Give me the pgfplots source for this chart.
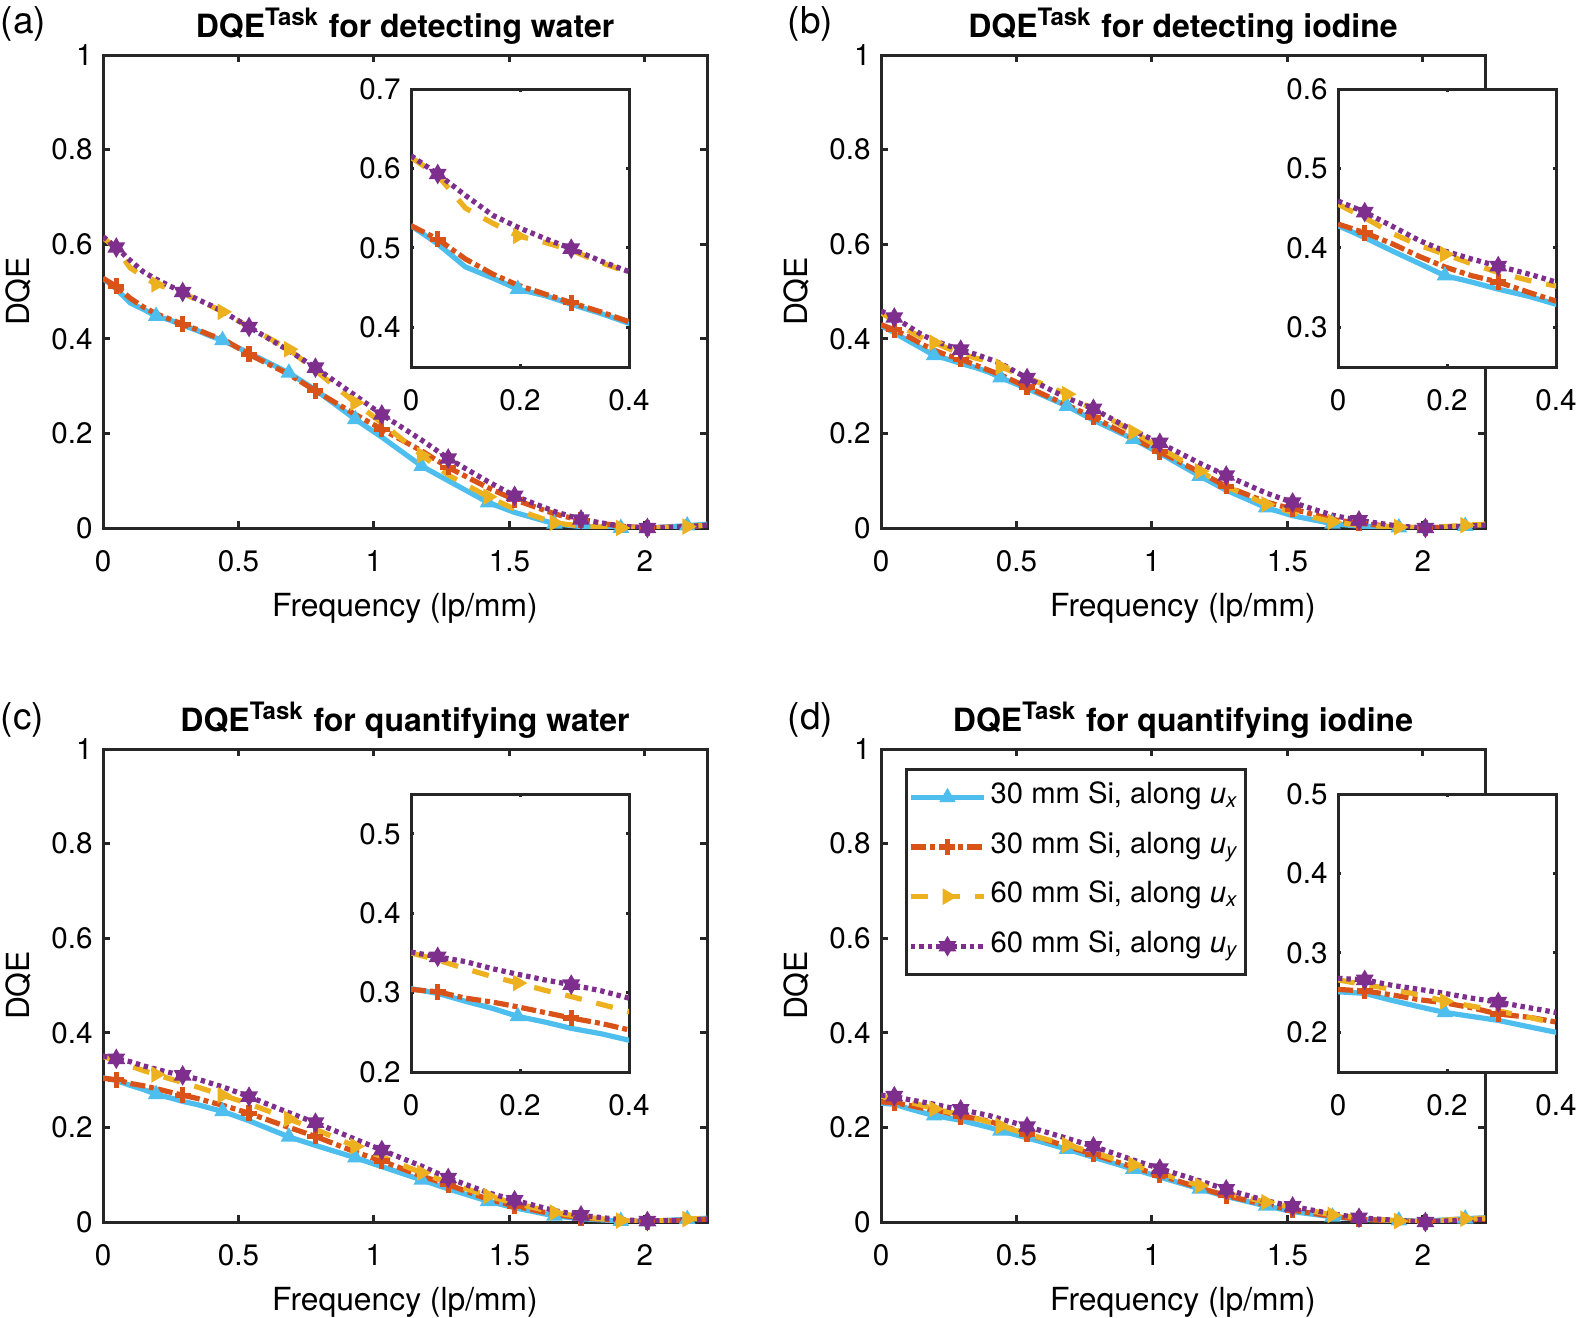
\documentclass[border=0pt]{standalone}
\usepackage{fontspec}
\setmainfont{TeX Gyre Heros}
\usepackage{pgfplots}
\usepackage{pgfplotstable}
\pgfplotsset{compat=1.18}

\definecolor{c1}{rgb}{0.301,0.745,0.933}
\definecolor{c2}{rgb}{0.850,0.325,0.098}
\definecolor{c3}{rgb}{0.929,0.694,0.125}
\definecolor{c4}{rgb}{0.494,0.184,0.556}

% filled six-point star (MATLAB hexagram)
\pgfdeclareplotmark{hexa}{%
  \pgfpathmoveto{\pgfpointpolar{90}{\pgfplotmarksize}}%
  \pgfpathlineto{\pgfpointpolar{120}{0.577\pgfplotmarksize}}%
  \pgfpathlineto{\pgfpointpolar{150}{\pgfplotmarksize}}%
  \pgfpathlineto{\pgfpointpolar{180}{0.577\pgfplotmarksize}}%
  \pgfpathlineto{\pgfpointpolar{210}{\pgfplotmarksize}}%
  \pgfpathlineto{\pgfpointpolar{240}{0.577\pgfplotmarksize}}%
  \pgfpathlineto{\pgfpointpolar{270}{\pgfplotmarksize}}%
  \pgfpathlineto{\pgfpointpolar{300}{0.577\pgfplotmarksize}}%
  \pgfpathlineto{\pgfpointpolar{330}{\pgfplotmarksize}}%
  \pgfpathlineto{\pgfpointpolar{0}{0.577\pgfplotmarksize}}%
  \pgfpathlineto{\pgfpointpolar{30}{\pgfplotmarksize}}%
  \pgfpathlineto{\pgfpointpolar{60}{0.577\pgfplotmarksize}}%
  \pgfpathclose\pgfusepathqfillstroke}

% columns: a = 30 mm Si u_x, b = 30 mm Si u_y, c = 60 mm Si u_x, d = 60 mm Si u_y
\pgfplotstableread{
f      a     b     c     d
0      0.528 0.528 0.614 0.616
0.049  0.505 0.511 0.591 0.593
0.1    0.476 0.486 0.550 0.566
0.15   0.462 0.467 0.531 0.541
0.196  0.448 0.453 0.515 0.526
0.245  0.440 0.442 0.507 0.512
0.294  0.429 0.431 0.497 0.499
0.35   0.417 0.419 0.481 0.483
0.4    0.405 0.407 0.469 0.470
0.441  0.397 0.400 0.457 0.458
0.539  0.370 0.367 0.425 0.425
0.686  0.328 0.325 0.378 0.375
0.784  0.292 0.290 0.333 0.339
0.931  0.230 0.240 0.265 0.280
1.029  0.192 0.209 0.222 0.240
1.176  0.131 0.163 0.154 0.186
1.274  0.100 0.128 0.112 0.147
1.421  0.054 0.085 0.066 0.098
1.519  0.033 0.060 0.040 0.068
1.666  0.009 0.030 0.011 0.035
1.764  0.003 0.016 0.004 0.018
1.911  0.000 0.004 0.000 0.004
2.009  0.000 0.000 0.000 0.000
2.156  0.005 0.003 0.003 0.003
2.23   0.008 0.006 0.006 0.006
}\tabA

\pgfplotstableread{
f      a     b     c     d
0      0.428 0.430 0.455 0.459
0.049  0.413 0.419 0.438 0.445
0.1    0.396 0.405 0.418 0.427
0.15   0.380 0.389 0.403 0.409
0.196  0.365 0.376 0.392 0.396
0.245  0.357 0.365 0.380 0.386
0.294  0.348 0.357 0.369 0.377
0.35   0.339 0.344 0.359 0.367
0.4    0.329 0.333 0.352 0.357
0.441  0.318 0.324 0.341 0.348
0.539  0.295 0.298 0.318 0.317
0.686  0.258 0.260 0.283 0.275
0.784  0.228 0.234 0.250 0.252
0.931  0.188 0.190 0.203 0.206
1.029  0.158 0.161 0.170 0.180
1.176  0.110 0.118 0.120 0.137
1.274  0.080 0.088 0.088 0.111
1.421  0.043 0.055 0.050 0.074
1.519  0.026 0.040 0.033 0.054
1.666  0.009 0.018 0.013 0.027
1.764  0.004 0.010 0.006 0.016
1.911  0.001 0.002 0.002 0.004
2.009  0.000 0.000 0.000 0.000
2.156  0.004 0.004 0.006 0.004
2.23   0.007 0.006 0.008 0.006
}\tabB

\pgfplotstableread{
f      a     b     c     d
0      0.305 0.304 0.350 0.351
0.049  0.299 0.301 0.341 0.345
0.1    0.289 0.293 0.330 0.339
0.15   0.280 0.288 0.320 0.330
0.196  0.270 0.282 0.312 0.323
0.245  0.263 0.275 0.303 0.316
0.294  0.255 0.268 0.295 0.310
0.35   0.248 0.261 0.285 0.302
0.4    0.240 0.253 0.276 0.293
0.441  0.234 0.247 0.268 0.286
0.539  0.214 0.230 0.250 0.265
0.686  0.180 0.200 0.218 0.231
0.784  0.162 0.181 0.196 0.210
0.931  0.136 0.148 0.160 0.175
1.029  0.117 0.129 0.138 0.152
1.176  0.089 0.097 0.104 0.118
1.274  0.070 0.079 0.083 0.093
1.421  0.044 0.048 0.055 0.062
1.519  0.030 0.034 0.040 0.046
1.666  0.013 0.016 0.020 0.024
1.764  0.007 0.009 0.011 0.014
1.911  0.002 0.003 0.003 0.005
2.009  0.001 0.001 0.001 0.002
2.156  0.006 0.004 0.006 0.004
2.23   0.008 0.006 0.008 0.006
}\tabC

\pgfplotstableread{
f      a     b     c     d
0      0.251 0.254 0.266 0.268
0.049  0.249 0.252 0.260 0.266
0.1    0.240 0.247 0.254 0.259
0.15   0.232 0.241 0.247 0.254
0.196  0.225 0.237 0.239 0.249
0.245  0.220 0.231 0.233 0.243
0.294  0.215 0.223 0.227 0.238
0.35   0.207 0.219 0.219 0.231
0.4    0.200 0.213 0.211 0.225
0.441  0.193 0.205 0.203 0.218
0.539  0.178 0.186 0.186 0.202
0.686  0.154 0.160 0.163 0.177
0.784  0.137 0.143 0.147 0.160
0.931  0.112 0.116 0.121 0.131
1.029  0.095 0.099 0.104 0.113
1.176  0.070 0.072 0.077 0.087
1.274  0.054 0.056 0.061 0.069
1.421  0.034 0.036 0.042 0.045
1.519  0.022 0.025 0.031 0.033
1.666  0.011 0.012 0.015 0.017
1.764  0.006 0.006 0.009 0.009
1.911  0.003 0.002 0.002 0.003
2.009  0.002 0.001 0.001 0.000
2.156  0.007 0.004 0.007 0.004
2.23   0.009 0.006 0.008 0.006
}\tabD

\pgfplotsset{
  common/.style={
    scale only axis,
    tick align=inside,
    axis line style={draw=black!85, line width=0.75pt},
    every tick/.style={black!85, line width=0.75pt},
    tick label style={font=\fontsize{7.4}{8}\selectfont},
    xticklabel style={yshift=-2pt},
    yticklabel style={xshift=0.9pt},
    /pgf/number format/assume math mode=true,
    clip=true,
  },
  mainax/.style={
    common,
    width=151pt, height=118.25pt,
    xmin=0, xmax=2.229, ymin=0, ymax=1,
    xtick={0,0.5,1,1.5,2}, ytick={0,0.2,0.4,0.6,0.8,1},
    major tick length=1.75pt,
    xlabel={Frequency (lp/mm)}, ylabel={DQE},
    label style={font=\fontsize{7.95}{9}\selectfont},
    xlabel style={at={(axis description cs:0.5,-0.188)}, anchor=base},
    ylabel style={at={(axis description cs:-0.1225,0.5)}, anchor=base},
    every axis title shift=0pt,
    title style={font=\bfseries\fontsize{8}{9.6}\selectfont,
      at={(axis description cs:0.5,1)}, anchor=base, yshift=4.5pt},
  },
  inax/.style={
    common,
    width=54.5pt, height=69.5pt,
    xmin=0, xmax=0.4, xtick={0,0.2,0.4},
    major tick length=0.75pt,
    axis background/.style={fill=white},
  },
  s1/.style={c1, solid, line width=1.3pt, mark=triangle*, mark size=1.9pt,
    mark options={solid, fill=c1, line width=0.5pt},
    mark indices={5,10,12,14,16,18,20,22,24}},
  s2/.style={c2, line width=1.3pt, dash pattern=on 3.75pt off 1pt on 1.25pt off 1pt,
    mark=+, mark size=2pt, mark options={solid, line width=1.3pt},
    mark indices={2,7,11,13,15,17,19,21,23}},
  s3/.style={c3, line width=1.3pt, dash pattern=on 4.25pt off 3.75pt,
    mark=triangle*, mark size=1.9pt,
    mark options={solid, rotate=-90, fill=c3, line width=0.5pt},
    mark indices={5,10,12,14,16,18,20,22,24}},
  s4/.style={c4, line width=1.3pt, dash pattern=on 1.1pt off 1pt,
    mark=hexa, mark size=2.1pt, mark options={solid, fill=c4, line width=0.5pt},
    mark indices={2,7,11,13,15,17,19,21,23}},
  legend image code/.code={%
    \draw[#1, mark indices={2}] plot coordinates {(0pt,0pt) (9.1pt,0pt) (18.25pt,0pt)};},
}

\newcommand{\plotfour}[1]{%
  \addplot[s1] table[x=f, y=a] {#1};
  \addplot[s2] table[x=f, y=b] {#1};
  \addplot[s3] table[x=f, y=c] {#1};
  \addplot[s4] table[x=f, y=d] {#1};
}

\begin{document}
\begin{tikzpicture}

\node[anchor=base west, inner sep=0pt, font=\fontsize{9.25}{11}\selectfont] at (0pt,-8.25pt) {(a)};
\node[anchor=base west, inner sep=0pt, font=\fontsize{9.25}{11}\selectfont] at (196.75pt,-8.25pt) {(b)};
\node[anchor=base west, inner sep=0pt, font=\fontsize{9.25}{11}\selectfont] at (0pt,-182.25pt) {(c)};
\node[anchor=base west, inner sep=0pt, font=\fontsize{9.25}{11}\selectfont] at (196.75pt,-182.25pt) {(d)};

% (a)
\begin{axis}[mainax, at={(25.75pt,-132pt)}, anchor=south west,
  title={DQE\textsuperscript{Task} for detecting water}]
\plotfour{\tabA}
\end{axis}
\begin{axis}[inax, at={(102.75pt,-91.75pt)}, anchor=south west,
  ymin=0.35, ymax=0.7, ytick={0.4,0.5,0.6,0.7}]
\plotfour{\tabA}
\end{axis}

% (b)
\begin{axis}[mainax, at={(220.25pt,-132pt)}, anchor=south west,
  title={DQE\textsuperscript{Task} for detecting iodine}]
\plotfour{\tabB}
\end{axis}
\begin{axis}[inax, at={(334.5pt,-91.75pt)}, anchor=south west,
  ymin=0.25, ymax=0.6, ytick={0.3,0.4,0.5,0.6}]
\plotfour{\tabB}
\end{axis}

% (c)
\begin{axis}[mainax, at={(25.75pt,-305.5pt)}, anchor=south west,
  title={DQE\textsuperscript{Task} for quantifying water}]
\plotfour{\tabC}
\end{axis}
\begin{axis}[inax, at={(102.75pt,-268pt)}, anchor=south west,
  ymin=0.2, ymax=0.55, ytick={0.2,0.3,0.4,0.5}]
\plotfour{\tabC}
\end{axis}

% (d)
\begin{axis}[mainax, at={(220.25pt,-305.5pt)}, anchor=south west,
  title={DQE\textsuperscript{Task} for quantifying iodine},
  legend cell align=left,
  legend style={at={(axis description cs:0.0397,0.96)}, anchor=north west,
    draw=black!85, line width=0.75pt, fill=white,
    font=\fontsize{7.3}{8}\selectfont,
    inner xsep=0.5pt, inner ysep=1pt, row sep=0.4pt,
    nodes={inner xsep=1pt, inner ysep=1.5pt, text height=6pt, text depth=3pt}}]
\plotfour{\tabD}
\addlegendentry{30 mm Si, along \textit{u}\textsubscript{\textit{x}}}
\addlegendentry{30 mm Si, along \textit{u}\textsubscript{\textit{y}}}
\addlegendentry{60 mm Si, along \textit{u}\textsubscript{\textit{x}}}
\addlegendentry{60 mm Si, along \textit{u}\textsubscript{\textit{y}}}
\end{axis}
\begin{axis}[inax, at={(334.5pt,-268pt)}, anchor=south west,
  ymin=0.15, ymax=0.5, ytick={0.2,0.3,0.4,0.5}]
\plotfour{\tabD}
\end{axis}

\pgfresetboundingbox
\path[use as bounding box] (0pt,0pt) rectangle (394pt,-329.5pt);
\end{tikzpicture}
\end{document}
